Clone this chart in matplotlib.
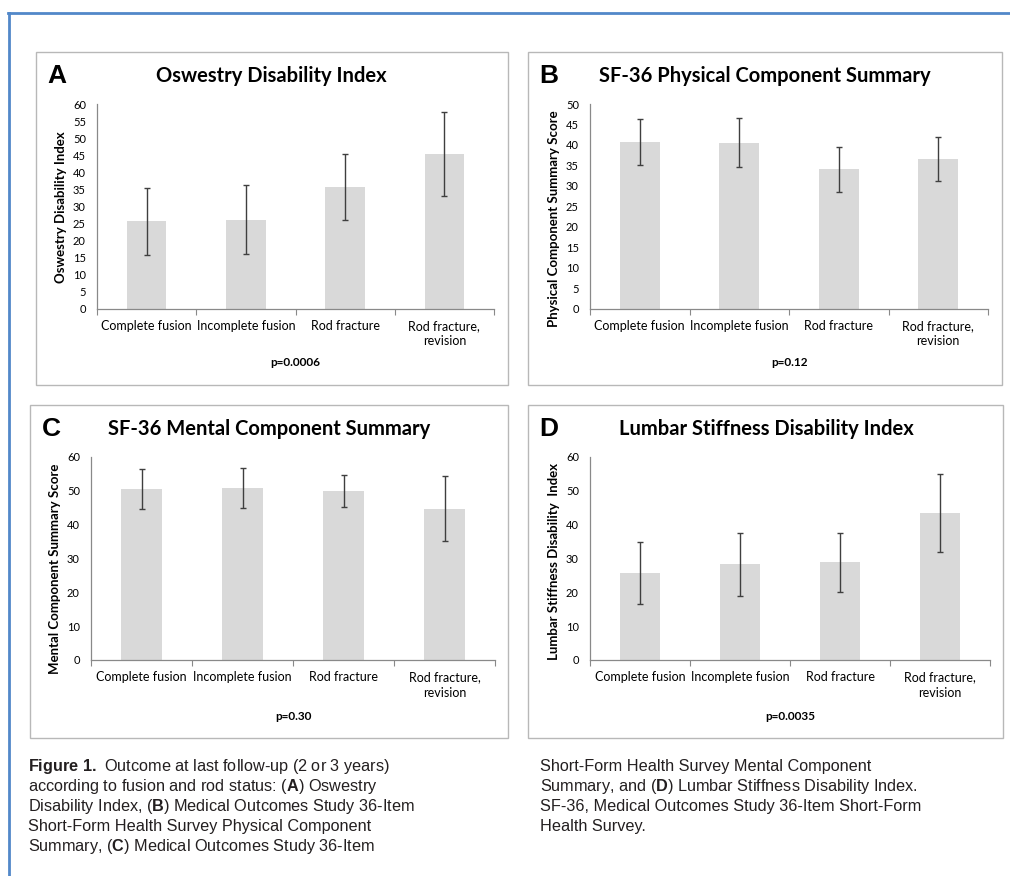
import matplotlib
matplotlib.use("Agg")
import matplotlib.pyplot as plt
from matplotlib.patches import Rectangle
from matplotlib.lines import Line2D
from matplotlib import font_manager

# Outcome data per rod / fusion status (mean and SD)
categories = ["Complete fusion", "Incomplete fusion", "Rod fracture", "Rod fracture,\nrevision"]

odi_mean = [25.6, 26.1, 35.6, 45.3]
odi_sd = [9.9, 10.1, 9.7, 12.4]

pcs_mean = [40.7, 40.5, 34.1, 36.6]
pcs_sd = [5.7, 6.0, 5.5, 5.3]

mcs_mean = [50.5, 50.9, 49.9, 44.6]
mcs_sd = [5.9, 5.9, 4.8, 9.6]

lsdi_mean = [25.7, 28.2, 28.9, 43.4]
lsdi_sd = [9.2, 9.4, 8.7, 11.6]

W, H = 1010, 876
fig = plt.figure(figsize=(W / 100, H / 100), dpi=100)
fig.patch.set_facecolor("white")

names = {f.name for f in font_manager.fontManager.ttflist}
chart_font = "Lato" if "Lato" in names else "DejaVu Sans"
cap_font = "Liberation Sans Narrow" if "Liberation Sans Narrow" in names else "Liberation Sans"

plt.rcParams["mathtext.fontset"] = "custom"
plt.rcParams["mathtext.rm"] = cap_font
plt.rcParams["mathtext.bf"] = cap_font + ":bold"


def fx(x):
    return x / W


def fy(y):
    return 1 - y / H


# blue frame around the figure page
fig.add_artist(Line2D([fx(8), fx(1010)], [fy(12.5), fy(12.5)], color="#5288c9", lw=2))
fig.add_artist(Line2D([fx(9), fx(9)], [fy(12.5), fy(876)], color="#5288c9", lw=2))

panels = [
    # letter, title, ylabel, p, mean, sd, ymax, step, box, axes, ylabel pos
    ("A", "Oswestry Disability Index", "Oswestry Disability Index", "p=0.0006",
     odi_mean, odi_sd, 60, 5, (36, 508, 52, 385), (97, 494, 104, 308.7), (61, 207)),
    ("B", "SF-36 Physical Component Summary", "Physical Component Summary Score", "p=0.12",
     pcs_mean, pcs_sd, 50, 5, (528, 1002, 52, 385), (590, 988, 104, 308.7), (554, 219)),
    ("C", "SF-36 Mental Component Summary", "Mental Component Summary Score", "p=0.30",
     mcs_mean, mcs_sd, 60, 10, (30, 508, 405, 738), (91, 495, 456.7, 660), (55, 569)),
    ("D", "Lumbar Stiffness Disability Index", "Lumbar Stiffness Disability  Index", "p=0.0035",
     lsdi_mean, lsdi_sd, 60, 10, (528, 1003, 405, 738), (590, 990, 456.7, 660), (554, 561)),
]

for letter, title, ylab, pval, mean, sd, ymax, step, box, axr, ylpos in panels:
    bx0, bx1, by0, by1 = box
    fig.add_artist(Rectangle((fx(bx0), fy(by1)), fx(bx1 - bx0), (by1 - by0) / H,
                             fill=False, edgecolor="#b8b8b8", lw=1.0))

    ax0, ax1, ay0, ay1 = axr
    ax = fig.add_axes([fx(ax0), fy(ay1), fx(ax1 - ax0), (ay1 - ay0) / H])
    x = list(range(len(categories)))
    ax.bar(x, mean, width=0.4, color="#d9d9d9", yerr=sd, capsize=2.5,
           error_kw=dict(ecolor="#3f3f3f", elinewidth=1.0, capthick=1.0))
    ax.set_xlim(-0.5, len(categories) - 0.5)
    ax.set_ylim(0, ymax)
    ax.set_yticks(range(0, ymax + 1, step))
    ax.set_xticks(x)
    ax.set_xticklabels(categories, fontsize=9, family=chart_font, linespacing=1.35)
    ax.set_xticks([i - 0.5 for i in range(len(categories) + 1)], minor=True)
    ax.tick_params(axis="x", which="major", length=0, pad=8)
    ax.tick_params(axis="x", which="minor", length=4, width=0.8, color="#898989", direction="out")
    ax.tick_params(axis="y", length=0, pad=8, labelsize=8)
    for lab in ax.get_yticklabels():
        lab.set_family(chart_font)
    for s in ["top", "right"]:
        ax.spines[s].set_visible(False)
    for s in ["left", "bottom"]:
        ax.spines[s].set_color("#898989")
        ax.spines[s].set_linewidth(0.9)
    ax.set_facecolor("none")

    # panel letter and title
    fig.text(fx(bx0 + 21), fy(by0 + 24), letter,
             family="Liberation Sans", weight="bold", fontsize=19, ha="center", va="center")
    tx = (ax0 + ax1) / 2 - 24
    fig.text(fx(tx), fy(by0 + 24), title, family=chart_font, weight="bold",
             fontsize=14.5, ha="center", va="center")
    fig.text(fx(ylpos[0]), fy(ylpos[1]), ylab, family=chart_font, weight="bold",
             fontsize=9.5, rotation=90, ha="center", va="center")
    fig.text(fx((ax0 + ax1) / 2), fy(by0 + 311), pval, family=chart_font, weight="bold",
             fontsize=8.5, ha="center", va="center")

# figure caption (two columns)
col1 = [
    r"$\mathbf{Figure\ 1.}$ Outcome at last follow-up (2 or 3 years)",
    r"according to fusion and rod status: ($\mathbf{A}$) Oswestry",
    r"Disability Index, ($\mathbf{B}$) Medical Outcomes Study 36-Item",
    "Short-Form Health Survey Physical Component",
    r"Summary, ($\mathbf{C}$) Medical Outcomes Study 36-Item",
]
col2 = [
    "Short-Form Health Survey Mental Component",
    r"Summary, and ($\mathbf{D}$) Lumbar Stiffness Disability Index.",
    "SF-36, Medical Outcomes Study 36-Item Short-Form",
    "Health Survey.",
]
for xs, lines in [(28, col1), (540, col2)]:
    for i, line in enumerate(lines):
        fig.text(fx(xs), fy(766 + 20 * i), line, family=cap_font, fontsize=11.7,
                 color="#231f20", ha="left", va="center")

fig.savefig("out.png", dpi=100, facecolor="white")
